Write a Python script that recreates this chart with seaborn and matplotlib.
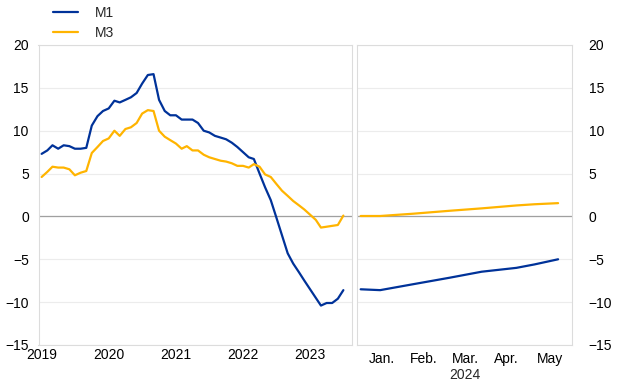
import numpy as np
import pandas as pd
import matplotlib
matplotlib.use("Agg")
import matplotlib.pyplot as plt
import matplotlib.dates as mdates
import seaborn as sns

# ---- data -------------------------------------------------------------
hist_dates = pd.date_range("2019-01-01", "2023-07-01", freq="MS")
m1_hist = [7.3, 7.7, 8.3, 7.9, 8.3, 8.2, 7.9, 7.9, 8.0, 10.6, 11.7, 12.3,
           12.6, 13.5, 13.3, 13.6, 13.9, 14.4, 15.5, 16.5, 16.6, 13.6, 12.3, 11.8,
           11.8, 11.3, 11.3, 11.3, 10.9, 10.0, 9.8, 9.4, 9.2, 9.0, 8.6, 8.1,
           7.5, 6.9, 6.7, 5.0, 3.4, 1.9, -0.1, -2.2, -4.3, -5.5, -6.5, -7.5,
           -8.5, -9.5, -10.4, -10.1, -10.1, -9.6, -8.6]
m3_hist = [4.6, 5.2, 5.8, 5.7, 5.7, 5.5, 4.8, 5.1, 5.3, 7.4, 8.1, 8.8,
           9.1, 10.0, 9.4, 10.2, 10.4, 10.9, 12.0, 12.4, 12.3, 10.0, 9.3, 8.9,
           8.5, 7.9, 8.2, 7.7, 7.7, 7.2, 6.9, 6.7, 6.5, 6.4, 6.2, 5.9,
           5.9, 5.7, 6.1, 5.8, 4.9, 4.6, 3.8, 3.0, 2.4, 1.8, 1.3, 0.8,
           0.2, -0.4, -1.3, -1.2, -1.1, -1.0, 0.1]

proj_dates = pd.to_datetime(["2024-01-01", "2024-01-15", "2024-02-08", "2024-03-05",
                             "2024-03-28", "2024-04-22", "2024-05-05", "2024-05-22"])
m1_proj = [-8.5, -8.6, -7.9, -7.15, -6.45, -6.0, -5.6, -5.0]
m3_proj = [0.05, 0.05, 0.32, 0.66, 0.94, 1.28, 1.42, 1.55]

year_ticks = ["2019", "2020", "2021", "2022", "2023"]
month_labels = ["Jan.", "Feb.", "Mar.", "Apr.", "May"]
month_centers = ["2024-01-16", "2024-02-15", "2024-03-16", "2024-04-15", "2024-05-16"]
series_names = ["M1", "M3"]
colors = {"M1": "#003299", "M3": "#FFB400"}

# ---- frames -----------------------------------------------------------
hist = pd.DataFrame({"date": list(hist_dates) * 2,
                     "value": m1_hist + m3_hist,
                     "series": ["M1"] * len(m1_hist) + ["M3"] * len(m3_hist)})
proj = pd.DataFrame({"date": list(proj_dates) * 2,
                     "value": m1_proj + m3_proj,
                     "series": ["M1"] * len(m1_proj) + ["M3"] * len(m3_proj)})

sns.set_theme(style="white")
plt.rcParams["font.family"] = ["Liberation Sans", "DejaVu Sans"]
FS = 10
plt.rcParams["font.size"] = FS

fig = plt.figure(figsize=(6.2, 3.87), dpi=100)
ax1 = fig.add_axes([38.5 / 620, 1 - 345 / 387, (352 - 38.5) / 620, 300 / 387])
ax2 = fig.add_axes([356.5 / 620, 1 - 345 / 387, (572 - 356.5) / 620, 300 / 387])

sns.lineplot(data=hist, x="date", y="value", hue="series", palette=colors,
             hue_order=series_names, ax=ax1, linewidth=1.6, legend=False)
sns.lineplot(data=proj, x="date", y="value", hue="series", palette=colors,
             hue_order=series_names, ax=ax2, linewidth=1.6, legend=False)

spine_col = "#dcdcdc"
for ax in (ax1, ax2):
    ax.set_ylim(-15, 20)
    ax.set_yticks(np.arange(-15, 21, 5))
    ax.grid(axis="y", color="#ececec", linewidth=0.8)
    ax.axhline(0, color="#a0a0a0", linewidth=0.9, zorder=1)
    for s in ax.spines.values():
        s.set_color(spine_col)
        s.set_linewidth(0.8)
    ax.set_xlabel("")
    ax.set_ylabel("")
    ax.tick_params(axis="both", labelsize=FS, colors="black")
    ax.tick_params(axis="y", length=0, pad=7)

ax1.set_xlim(pd.Timestamp("2018-12-15"), pd.Timestamp("2023-08-17"))
ax1.set_xticks([pd.Timestamp(y + "-01-01") for y in year_ticks])
ax1.set_xticklabels(year_ticks)
ax1.xaxis.set_minor_locator(mdates.MonthLocator())
ax1.tick_params(axis="x", which="major", length=0, pad=2)
ax1.tick_params(axis="x", which="minor", length=3, color=spine_col, width=0.8)

ax2.set_xlim(pd.Timestamp("2023-12-29"), pd.Timestamp("2024-06-01"))
ax2.set_xticks(pd.to_datetime(month_centers))
ax2.set_xticklabels(month_labels)
ax2.tick_params(axis="x", length=0, pad=5)
ax2.yaxis.tick_right()
ax2.tick_params(axis="y", labelright=True, labelleft=False, pad=12)
ax2.text(pd.Timestamp(month_centers[2]), -0.077, "2024", transform=ax2.get_xaxis_transform(),
         ha="center", va="top", fontsize=FS)

handles = [plt.Line2D([], [], color=colors[n], linewidth=1.6) for n in series_names]
fig.legend(handles, series_names, loc="upper left", bbox_to_anchor=(0.065, 1.018),
           frameon=False, fontsize=FS, handlelength=1.8, handletextpad=1.2,
           labelspacing=0.45)

fig.savefig("out.png", dpi=100)
